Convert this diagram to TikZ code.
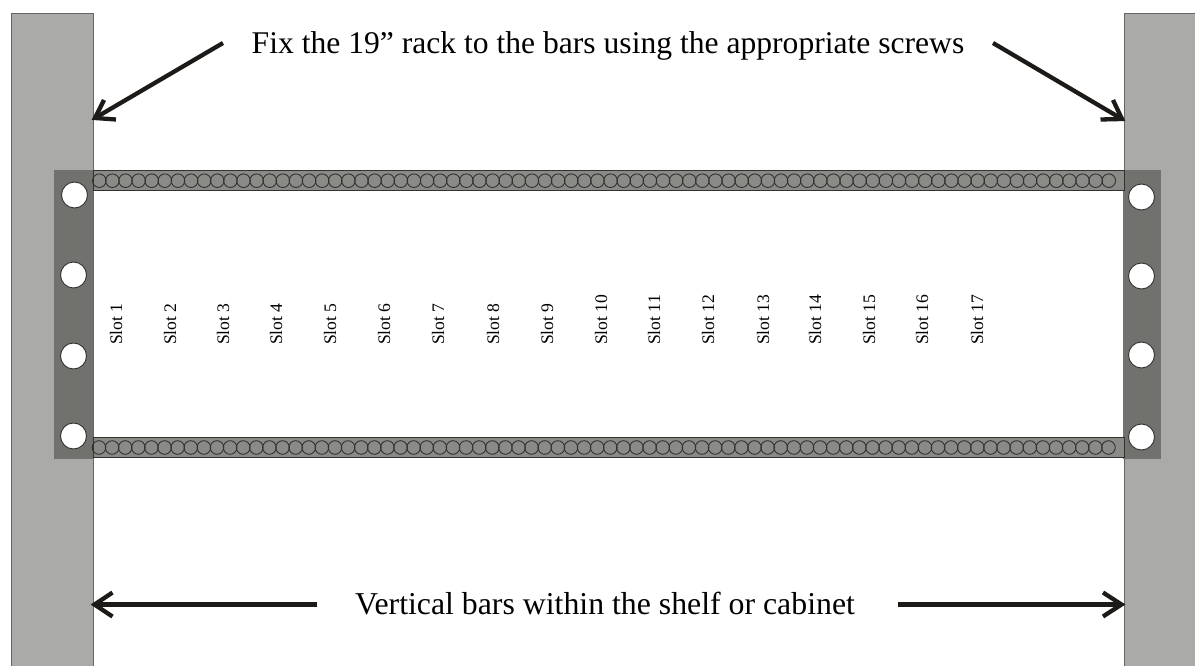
\documentclass[tikz,border=0pt]{standalone}
\usepackage{fontspec}
\setmainfont{Liberation Serif}
\definecolor{barc}{RGB}{170,170,168}
\definecolor{flc}{RGB}{113,113,110}
\definecolor{railc}{RGB}{138,138,135}
\definecolor{edgec}{RGB}{50,50,48}
\definecolor{arrc}{RGB}{30,26,24}
\tikzset{
  barbox/.style={fill=barc,draw=edgec!75,line width=1pt},
  flange/.style={fill=flc,draw=none},
  rail/.style={fill=railc,draw=edgec,line width=1pt},
  bead/.style={circle,draw=edgec,line width=0.9pt,minimum size=13.6pt,inner sep=0pt},
  hole/.style={circle,fill=white,draw=edgec,line width=0.9pt,minimum size=26pt,inner sep=0pt},
  slotlabel/.style={rotate=90,anchor=west,inner sep=0pt,font=\fontsize{17.6}{18}\selectfont},
  biglabel/.style={inner sep=0pt,anchor=base,font=\fontsize{31.8}{34}\selectfont},
  fatarrow/.style={draw=arrc,line width=4.3pt}
}
\begin{document}
\begin{tikzpicture}[x=1pt,y=-1pt]
\useasboundingbox (0,0) rectangle (1195,666);
\path[barbox] (11,14) -- (93,14) -- (93,670) -- (11,670) -- cycle;
\path[barbox] (1197,14) -- (1124,14) -- (1124,670) -- (1197,670) -- cycle;
\node[flange,minimum width=39pt,minimum height=289pt,inner sep=0pt] (fl) at (73.5,314.5) {};
\node[flange,minimum width=38pt,minimum height=289pt,inner sep=0pt] (fr) at (1142,314.5) {};
\node[rail,minimum width=1031pt,minimum height=20pt,inner sep=0pt] (rt) at (608.5,181) {};
\node[rail,minimum width=1031pt,minimum height=20pt,inner sep=0pt] (rb) at (608.5,447.5) {};
\foreach \i in {0,...,77}{
  \node[bead] (bt\i) at ({99.3+13.11*\i},180.7) {};
  \node[bead] (bb\i) at ({99+13.11*\i},447.5) {};
}
\foreach \n/\x/\y in {a/74.5/195,b/73.5/275,c/73.5/356,d/73.5/436,e/1141.5/197,f/1141.5/276,g/1141.5/355,h/1141.5/437}{
  \node[hole] (\n) at (\x,\y) {};
}
\foreach \k/\x in {1/116,2/170,3/223,4/276,5/330,6/384,7/438,8/493,9/547,10/601,11/654,12/708,13/763,14/815,15/869,16/922,17/977}{
  \node[slotlabel] (s\k) at (\x,345) {Slot \k};
}
\node[biglabel] (t1) at (608,54) {\fontsize{31.6}{34}\selectfont Fix the 19” rack to the bars using the appropriate screws};
\node[biglabel] (t2) at (605,614) {Vertical bars within the shelf or cabinet};
\coordinate (a1) at (223,43);
\coordinate (a2) at (95,118);
\coordinate (a3) at (993,43);
\coordinate (a4) at (1122,119);
\coordinate (a5) at (317,604.5);
\coordinate (a6) at (94.5,604.5);
\coordinate (a7) at (898,604.5);
\coordinate (a8) at (1121.5,604.5);
\draw[fatarrow] (a1) -- (a2);
\draw[fatarrow] (104,100) -- (a2) -- (116,119.5);
\draw[fatarrow] (a3) -- (a4);
\draw[fatarrow] (1113,100) -- (a4) -- (1100.5,119.5);
\draw[fatarrow] (a5) -- (a6);
\draw[fatarrow] (112.5,592.5) -- (a6) -- (112.5,616.5);
\draw[fatarrow] (a7) -- (a8);
\draw[fatarrow] (1103,592.5) -- (a8) -- (1103,616.5);
\end{tikzpicture}
\end{document}
